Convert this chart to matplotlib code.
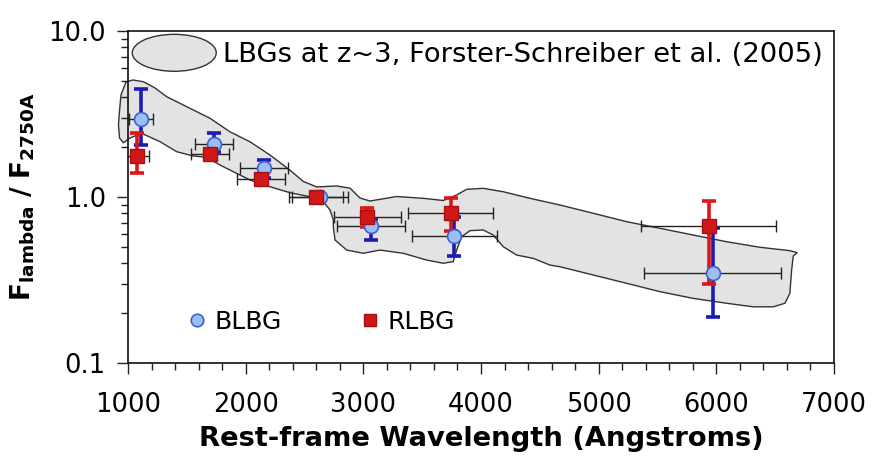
import numpy as np
import matplotlib
matplotlib.use("Agg")
from matplotlib import pyplot as plt
from matplotlib.patches import Polygon, Ellipse
from matplotlib.lines import Line2D
from matplotlib.legend_handler import HandlerPatch
from matplotlib.ticker import MultipleLocator, LogLocator, NullFormatter

# BLBG points (blue circles)
blue_wl = [1110, 1731, 2156, 2632, 3065, 3773, 5968]
blue_f = [2.95, 2.08, 1.49, 1.00, 0.67, 0.58, 0.35]
blue_f_hi = [4.45, 2.44, 1.67, 1.03, 0.74, 0.76, 0.65]
blue_f_lo = [2.06, 1.88, 1.31, 0.97, 0.55, 0.44, 0.19]
blue_xerr = [100, 160, 200, 240, 290, 360, 585]

# RLBG points (red squares)
red_wl = [1079, 1697, 2130, 2595, 3034, 3742, 5935]
red_f = [1.77, 1.82, 1.28, 1.00, 0.755, 0.80, 0.67]
red_f_hi = [2.42, 1.92, 1.33, 1.03, 0.855, 0.98, 0.95]
red_f_lo = [1.40, 1.72, 1.23, 0.97, 0.66, 0.62, 0.30]
red_xerr = [103, 165, 205, 230, 286, 362, 573]

# outline of the LBG z~3 envelope (Forster-Schreiber et al. 2005)
env_wl = [926, 940, 983, 1042, 1130, 1229, 1329, 1499, 1697, 1867, 2037, 2207,
          2377, 2490, 2604, 2774, 2887, 2972, 3057, 3283, 3509, 3679, 3793,
          3878, 4019, 4189, 4416, 4671, 4954, 5238, 5521, 5804, 6087, 6370,
          6625, 6688, 6654, 6640, 6625, 6583, 6484, 6314, 6088, 5804, 5521,
          5238, 4954, 4671, 4586, 4444, 4303, 4189, 4104, 4019, 3906, 3836,
          3793, 3764, 3679, 3538, 3340, 3141, 3000, 2859, 2759, 2745, 2745,
          2717, 2660, 2547, 2377, 2207, 2037, 1895, 1782, 1669, 1555, 1414,
          1272, 1116, 1017, 960, 928, 919]
env_f = [3.19, 4.12, 4.93, 5.07, 4.95, 4.54, 4.02, 3.50, 2.98, 2.47, 2.15, 1.79,
         1.45, 1.24, 1.15, 1.165, 1.13, 0.986, 0.946, 1.007, 0.982, 0.953, 1.028,
         1.113, 1.128, 1.076, 0.982, 0.895, 0.798, 0.710, 0.648, 0.590, 0.538,
         0.498, 0.475, 0.462, 0.441, 0.363, 0.263, 0.229, 0.218, 0.218, 0.229,
         0.245, 0.269, 0.302, 0.339, 0.380, 0.389, 0.427, 0.447, 0.502, 0.590,
         0.633, 0.627, 0.576, 0.479, 0.408, 0.399, 0.417, 0.458, 0.479, 0.458,
         0.479, 0.551, 0.662, 0.727, 0.835, 0.937, 1.004, 1.061, 1.153, 1.266,
         1.420, 1.558, 1.735, 1.766, 1.875, 2.154, 2.419, 2.267, 2.124, 2.267,
         2.715]

x_ticks = [1000, 2000, 3000, 4000, 5000, 6000, 7000]
y_ticks = [0.1, 1.0, 10.0]
y_tick_labels = ["0.1", "1.0", "10.0"]

blue_bar = "#1c1cb4"
blue_face = "#9cbff2"
blue_edge = "#3b5fd8"
red_bar = "#e01515"
red_face = "#d01818"
red_edge = "#a81010"

plt.rcParams['font.family'] = ['DejaVu Sans']

fig = plt.figure(figsize=(8.72, 4.63), dpi=100)
ax = fig.add_axes([0.1468, 0.216, 0.8096, 0.717])

env = Polygon(np.column_stack([env_wl, env_f]), closed=True, facecolor="#e3e3e3",
              edgecolor="#333333", linewidth=1.0, clip_on=False, zorder=1,
              label="LBGs at z~3, Forster-Schreiber et al. (2005)")
ax.add_patch(env)

# horizontal error bars (thin black)
ax.errorbar(blue_wl, blue_f, xerr=blue_xerr, fmt="none", ecolor="#222222",
            elinewidth=1.0, capsize=4, capthick=1.0, zorder=2)
ax.errorbar(red_wl, red_f, xerr=red_xerr, fmt="none", ecolor="#222222",
            elinewidth=1.0, capsize=4, capthick=1.0, zorder=2)

# vertical error bars (thick, coloured)
b_yerr = [np.array(blue_f) - np.array(blue_f_lo), np.array(blue_f_hi) - np.array(blue_f)]
r_yerr = [np.array(red_f) - np.array(red_f_lo), np.array(red_f_hi) - np.array(red_f)]
ax.errorbar(blue_wl, blue_f, yerr=b_yerr, fmt="none", ecolor=blue_bar,
            elinewidth=2.6, capsize=5, capthick=2.6, zorder=3)
ax.errorbar(red_wl, red_f, yerr=r_yerr, fmt="none", ecolor=red_bar,
            elinewidth=2.6, capsize=5, capthick=2.6, zorder=3)

ax.plot(blue_wl, blue_f, linestyle="none", marker="o", markersize=10,
        markerfacecolor=blue_face, markeredgecolor=blue_edge, markeredgewidth=1.2,
        zorder=4)
ax.plot(red_wl, red_f, linestyle="none", marker="s", markersize=10.5,
        markerfacecolor=red_face, markeredgecolor=red_edge, markeredgewidth=1.0,
        zorder=5)

ax.set_xscale("linear")
ax.set_yscale("log")
ax.set_xlim(1000, 7000)
ax.set_ylim(0.1, 10.0)

ax.set_xticks(x_ticks)
ax.set_xticklabels([str(t) for t in x_ticks])
ax.xaxis.set_minor_locator(MultipleLocator(200))
ax.set_yticks(y_ticks)
ax.set_yticklabels(y_tick_labels)
ax.yaxis.set_minor_locator(LogLocator(base=10, subs=np.arange(2, 10)))
ax.yaxis.set_minor_formatter(NullFormatter())

ax.tick_params(axis="both", which="major", direction="out", length=8, width=1.0,
               labelsize=18.5, color="#222222")
ax.tick_params(axis="both", which="minor", direction="out", length=5, width=1.0,
               color="#222222")
ax.tick_params(axis="x", which="major", pad=13)
ax.tick_params(axis="y", which="major", pad=8)
for sp in ax.spines.values():
    sp.set_linewidth(1.2)
    sp.set_color("#111111")

ax.set_xlabel("Rest-frame Wavelength (Angstroms)", fontsize=19.7, fontweight="bold",
              labelpad=6)
ax.set_ylabel(r"$\mathbf{F_{lambda}\ /\ F_{2750A}}$", fontsize=19, labelpad=8)


def make_ellipse(legend, orig_handle, xdescent, ydescent, width, height, fontsize):
    return Ellipse((width / 2 - xdescent, height / 2 - ydescent), width, height)


leg1 = ax.legend(handles=[env], loc="upper left", bbox_to_anchor=(0.006, 0.99),
                 frameon=False, fontsize=19.7, borderpad=0, borderaxespad=0,
                 handlelength=3.07, handleheight=1.7, handletextpad=0.25,
                 handler_map={Polygon: HandlerPatch(patch_func=make_ellipse)})
ax.add_artist(leg1)

pts = [Line2D([], [], linestyle="none", marker="o", markersize=9,
              markerfacecolor=blue_face, markeredgecolor=blue_edge,
              markeredgewidth=1.2, label="BLBG"),
       Line2D([], [], linestyle="none", marker="s", markersize=9,
              markerfacecolor=red_face, markeredgecolor=red_edge,
              markeredgewidth=1.0, label="RLBG")]
ax.legend(handles=pts, loc="center left", bbox_to_anchor=(0.083, 0.123), ncol=2,
          frameon=False, fontsize=18, borderpad=0, borderaxespad=0,
          handlelength=0.8, handletextpad=0.3, columnspacing=3.15)

fig.savefig("out.png", dpi=100)
